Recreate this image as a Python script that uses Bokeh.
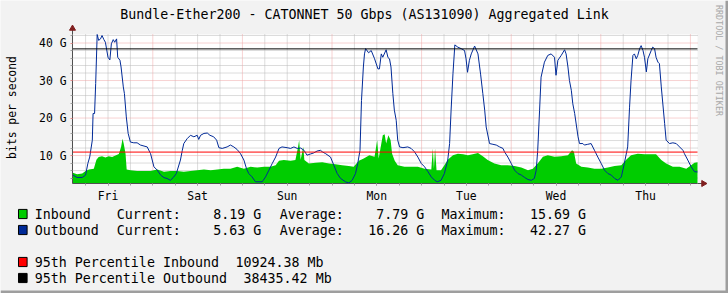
import math
from bokeh.plotting import figure
from bokeh.models import Range1d, FixedTicker, Label, BoxAnnotation
from bokeh.embed import file_html
from bokeh.resources import INLINE

# time axis: hours since Friday 00:00
out_t = [2.6, 3.7, 5.1, 6.0, 6.6, 7.1, 7.8, 8.0, 8.4, 8.7, 9.1, 9.5, 10.0, 10.4, 10.9, 11.3, 12.0, 12.5, 12.9, 13.4,
         13.8, 14.3, 14.6, 15.2, 15.5, 16.1, 16.4, 16.9, 17.4, 18.0, 18.9, 19.8, 20.7, 22.5, 23.4, 24.3, 25.2, 26.1,
         27.0, 27.8, 28.7, 29.5, 30.3, 31.4, 31.9, 32.3, 33.2, 34.1, 35.0, 35.9, 36.3, 36.8, 37.7, 38.6, 39.3, 40.3,
         41.1, 41.7, 42.6, 43.9, 44.8, 45.7, 46.6, 47.5, 48.4, 49.1, 49.7, 50.6, 51.5, 53.3, 54.2, 55.1, 56.0, 56.9,
         57.8, 58.6, 60.0, 60.9, 61.8, 62.7, 63.6, 64.5, 65.3, 66.2, 67.1, 68.0, 68.9, 69.4, 70.3, 71.6, 72.5, 73.4,
         74.3, 75.6, 76.5, 77.4, 78.3, 78.9, 79.5, 79.9, 80.4, 80.7, 81.0, 81.8, 82.5, 83.4, 84.3, 84.7, 85.2, 85.6,
         86.5, 87.0, 87.4, 87.8, 88.3, 88.7, 89.2, 89.6, 90.1, 91.0, 92.3, 93.2, 94.1, 95.0, 95.9, 96.8, 97.7, 98.6,
         99.5, 100.2, 101.2, 102.1, 103.0, 103.5, 103.9, 104.4, 104.9, 105.7, 106.6, 107.5, 107.9, 108.3, 108.8,
         109.3, 110.2, 111.1, 111.8, 112.4, 112.9, 113.3, 114.2, 115.1, 116.0, 116.9, 117.8, 118.2, 119.1, 120.0,
         120.9, 121.8, 122.7, 123.6, 124.5, 125.4, 126.2, 126.7, 127.1, 127.6, 128.0, 128.9, 129.8, 130.7, 131.6,
         132.0, 132.5, 133.4, 134.3, 134.7, 135.2, 135.6, 136.1, 136.5, 137.0, 137.9, 138.3, 139.2, 139.6, 140.5,
         141.4, 142.3, 143.2, 144.1, 145.0, 145.9, 146.8, 147.7, 148.6, 149.5, 150.3, 151.2, 151.7, 152.1, 152.6,
         153.0, 153.5, 153.9, 154.4, 154.8, 155.3, 155.7, 156.2, 156.6, 157.5, 157.9, 158.4, 158.8, 159.3, 159.7,
         160.2, 161.1, 161.5, 162.4, 163.3, 164.2, 165.1, 166.0, 166.4, 167.3, 168.2, 169.1, 169.9]
out_g = [4.8, 4.15, 4.15, 4.8, 7.9, 9.6, 14.1, 21.2, 21.2, 29.2, 42.27, 40.7, 41.1, 42.0, 40.9, 40.2, 36.2, 35.5, 39.8, 40.9,
         40.2, 41.1, 36.2, 35.4, 33.6, 28.3, 26.5, 20.3, 15.9, 13.6, 13.4, 13.4, 12.8, 12.3, 10.5, 7.0, 6.1, 4.8,
         4.1, 3.9, 3.4, 4.15, 5.2, 8.8, 11.4, 13.2, 14.5, 15.4, 15.0, 15.4, 14.3, 15.4, 15.9, 16.0, 15.4, 15.0,
         14.1, 12.1, 11.9, 12.3, 12.8, 12.3, 11.6, 10.5, 8.8, 6.5, 5.2, 4.3, 3.0, 3.0, 4.3, 6.1, 7.9, 9.6,
         11.9, 12.3, 12.1, 11.9, 12.3, 11.9, 12.0, 11.4, 10.1, 10.4, 10.7, 11.2, 11.4, 11.0, 10.5, 9.6, 7.4, 5.2,
         3.9, 3.0, 2.7, 3.4, 5.2, 7.9, 11.4, 24.7, 33.6, 37.1, 38.5, 37.4, 38.0, 35.8, 33.1, 33.1, 37.1, 36.2,
         38.2, 36.1, 35.8, 33.6, 26.5, 22.1, 19.4, 14.1, 12.3, 12.1, 12.3, 11.9, 11.0, 9.6, 7.9, 7.0, 5.7, 4.3,
         3.4, 3.0, 3.4, 5.2, 8.8, 13.2, 22.1, 31.8, 39.5, 38.9, 38.5, 38.0, 35.8, 32.2, 35.4,
         37.1, 39.2, 37.1, 31.7, 26.5, 22.1, 17.6, 13.2, 13.0, 12.8, 12.3, 11.9, 11.0, 9.6, 7.9,
         6.1, 5.2, 4.8, 4.15, 3.6, 3.4, 3.9, 6.1, 11.4, 22.1, 30.9, 34.9, 36.7, 37.1, 36.2,
         31.4, 35.4, 36.7, 38.2, 37.1, 33.6, 30.0, 27.4, 23.8, 21.2, 15.0, 13.2, 13.2, 12.8, 13.0,
         13.2, 11.4, 9.6, 7.9, 6.1, 5.2, 4.8, 3.9, 3.4, 4.3, 7.9, 12.3, 22.9, 30.0, 36.7,
         37.1, 35.8, 36.7, 38.5, 39.3, 38.0, 36.2, 32.3, 35.8, 38.0, 38.9, 38.5, 36.2, 34.9, 34.5,
         28.3, 18.5, 14.1, 13.2, 13.4, 13.2, 12.3, 11.4, 10.5, 8.8, 7.0, 5.7, 5.63]

in_t = [2.6, 3.7, 5.1, 6.0, 6.9, 8.2, 8.9, 9.5, 10.4, 11.3, 12.2, 13.1, 14.0, 14.9, 15.5, 15.9, 16.2, 16.7, 17.0, 18.0,
        19.8, 21.6, 23.4, 25.2, 27.0, 28.7, 30.5, 32.3, 34.1, 35.9, 37.7, 39.5, 41.3, 43.0, 44.8, 46.6, 48.4, 50.2,
        52.0, 53.8, 55.5, 56.9, 57.8, 59.1, 60.9, 62.2, 62.9, 63.2, 63.6, 64.3, 64.6, 65.8, 67.6, 69.4, 71.2, 72.9,
        74.7, 76.5, 77.8, 79.2, 80.5, 82.0, 83.4, 84.1, 84.5, 85.6, 86.1, 86.5, 87.1, 87.7, 88.1, 88.8, 89.6, 91.4,
        93.2, 95.0, 96.8, 98.6, 99.0, 99.3, 99.6, 100.0, 101.2, 102.1, 103.0, 104.4, 105.7, 107.1, 108.4, 109.7,
        111.1, 112.4, 113.7, 115.5, 117.3, 119.1, 120.9, 122.7, 124.5, 125.8, 127.1, 128.5, 129.8, 131.6, 133.4,
        135.2, 136.3, 136.8, 137.4, 138.8, 140.5, 142.3, 144.1, 145.9, 147.7, 149.5, 150.8, 152.1, 153.9, 155.7,
        157.5, 158.8, 160.2, 161.5, 163.3, 165.1, 166.9, 168.2, 169.1, 169.9]
in_g = [5.4, 5.0, 5.2, 5.9, 6.3, 6.5, 8.9, 9.6, 9.8, 9.5, 9.8, 9.6, 10.0, 10.4, 12.3, 14.5, 13.2, 10.5, 6.3, 6.1,
        5.9, 5.9, 5.9, 6.3, 5.7, 5.9, 5.9, 5.7, 5.9, 6.1, 6.3, 6.1, 6.3, 6.5, 6.5, 7.0, 6.5, 7.0,
        6.8, 7.0, 7.0, 7.4, 8.6, 8.8, 8.6, 8.8, 12.3, 14.1, 8.9, 12.3, 8.8, 7.9, 8.05, 8.2, 7.9, 7.7,
        7.4, 7.2, 7.0, 8.6, 9.2, 10.1, 9.65, 14.1, 9.2, 15.4, 15.69, 13.2, 15.4, 14.1, 10.5, 8.6, 7.4, 7.0,
        7.0, 7.0, 6.5, 6.3, 11.9, 6.5, 11.9, 6.1, 6.1, 7.4, 8.9, 10.1, 10.5, 10.35, 10.1, 10.35,
        10.7, 9.8, 8.8, 7.9, 7.4, 7.4, 7.2, 6.8, 6.1, 6.5, 7.9, 9.65, 10.1, 9.65, 9.8,
        10.1, 11.4, 11.0, 7.9, 7.0, 6.8, 6.5, 6.5, 6.8, 7.2, 7.4, 8.9, 10.1, 10.5, 10.35,
        10.35, 10.35, 8.8, 7.9, 7.0, 7.0, 6.5, 7.4, 8.05, 8.19]

day_names = ["Fri", "Sat", "Sun", "Mon", "Tue", "Wed", "Thu"]
day_noons = [12, 36, 60, 84, 108, 132, 156]
y_major = [10, 20, 30, 40]
y_labels = ["10 G", "20 G", "30 G", "40 G"]

pct95_in = 10.92438   # G
pct95_out = 38.43542  # G

series_names = ["Inbound", "Outbound"]
series_colors = ["#00CC00", "#002A97"]
current_vals = ["8.19 G", "5.63 G"]
average_vals = ["7.79 G", "16.26 G"]
maximum_vals = ["15.69 G", "42.27 G"]
pct_names = ["95th Percentile Inbound", "95th Percentile Outbound"]
pct_vals = ["10924.38 Mb", "38435.42 Mb"]
pct_colors = ["#FF0000", "#000000"]
title = "Bundle-Ether200 - CATONNET 50 Gbps (AS131090) Aggregated Link"

MONO = "DejaVu Sans Mono"
BG = "#F2F2F2"
W, H = 728, 293
CH = 8.03  # character advance of the legend font

# visible graph window (data) and its pixel placement on the canvas
XMIN, XMAX = 2.49, 169.9
YMIN, YMAX = 2.55, 42.27
GL, GT, GW, GH = 72, 34, 625, 149
PX_H = GW / (XMAX - XMIN)
PX_G = GH / (YMAX - YMIN)
xr = Range1d(XMIN - GL / PX_H, XMIN + (W - GL) / PX_H)
yr = Range1d(YMIN - (H - GT - GH) / PX_G, YMIN + (GT + GH) / PX_G)

p = figure(width=W, height=H, output_backend="svg", toolbar_location=None, title=None,
           x_range=xr, y_range=yr, min_border_left=0, min_border_right=0,
           min_border_top=0, min_border_bottom=0)
p.background_fill_color = BG
p.border_fill_color = BG
p.outline_line_color = None
p.xgrid.visible = False
p.ygrid.visible = False

# white canvas of the graph
p.add_layout(BoxAnnotation(left=XMIN, right=XMAX, bottom=YMIN, top=YMAX, fill_color="white", fill_alpha=1,
                           line_color=None, level="underlay"))

# grid lines (dotted)
midnights = [24 * i for i in range(1, 8)]
six_h = [6 * i for i in range(1, 29) if i % 4 != 0]
y_minor = [v for v in range(4, 43, 2) if v % 10 != 0]
MINOR_C, MAJOR_C = "#B8B8B8", "#EFA5A5"
p.segment(x0=six_h, x1=six_h, y0=[YMIN] * len(six_h), y1=[YMAX] * len(six_h),
          line_color=MINOR_C, line_width=1, line_dash="1 1")
p.segment(x0=[XMIN] * len(y_minor), x1=[XMAX] * len(y_minor), y0=y_minor, y1=y_minor,
          line_color=MINOR_C, line_width=1, line_dash="1 1")
p.segment(x0=midnights, x1=midnights, y0=[YMIN] * len(midnights), y1=[YMAX] * len(midnights),
          line_color=MAJOR_C, line_width=1, line_dash="1 1")
p.segment(x0=[XMIN] * len(y_major), x1=[XMAX] * len(y_major), y0=y_major, y1=y_major,
          line_color=MAJOR_C, line_width=1, line_dash="1 1")

# axes at fixed positions
AXIS_C = "#505050"
p.xaxis.fixed_location = YMIN
p.yaxis.fixed_location = XMIN
p.xaxis.bounds = (XMIN, XMAX)
p.yaxis.bounds = (YMIN, YMAX)
p.xaxis.ticker = FixedTicker(ticks=day_noons, minor_ticks=midnights + six_h)
p.xaxis.major_label_overrides = {t: d for t, d in zip(day_noons, day_names)}
p.yaxis.ticker = FixedTicker(ticks=y_major, minor_ticks=y_minor)
p.yaxis.major_label_overrides = {v: s for v, s in zip(y_major, y_labels)}
for ax in (p.xaxis[0], p.yaxis[0]):
    ax.axis_line_color = AXIS_C
    ax.major_label_text_font = MONO
    ax.major_label_text_font_size = "11.4px"
    ax.major_label_text_color = "black"
    ax.major_tick_line_color = "#A0A0A0"
    ax.minor_tick_line_color = "#A0A0A0"
    ax.major_tick_out = 2
    ax.major_tick_in = 0
    ax.minor_tick_out = 2
    ax.minor_tick_in = 0
p.xaxis.major_label_standoff = 3
p.yaxis.major_label_standoff = 4
p.yaxis.major_tick_line_color = "#E88A8A"

# data
p.varea(x=in_t, y1=YMIN, y2=in_g, fill_color="#00CC00")
p.line(out_t, out_g, line_color="#002A97", line_width=1)

# 95th percentile lines
p.segment(x0=[XMIN], x1=[XMAX], y0=[pct95_in], y1=[pct95_in], line_color="#FF0000", line_width=1)
p.segment(x0=[XMIN], x1=[XMAX], y0=[pct95_out], y1=[pct95_out], line_color="#000000", line_width=1)

# axis extensions with arrow heads
ARROW_C = "#801F1F"
y_tip = YMAX + 6 / PX_G
x_tip = XMAX + 6 / PX_H
p.segment(x0=[XMIN, XMAX], x1=[XMIN, x_tip], y0=[YMAX, YMIN], y1=[y_tip, YMIN], line_color=AXIS_C, line_width=1)
p.scatter(x=[XMIN], y=[y_tip], marker="triangle", size=6, fill_color=ARROW_C, line_color=ARROW_C)
p.scatter(x=[x_tip], y=[YMIN], marker="triangle", size=6, angle=-math.pi / 2,
          fill_color=ARROW_C, line_color=ARROW_C)


def scr(cx, cy):
    return cx, H - cy


def text_label(cx, cy, txt, size="13.3px", color="black", align="left", angle=0.0):
    x, y = scr(cx, cy)
    p.add_layout(Label(x=x, y=y, x_units="screen", y_units="screen", text=txt, text_font=MONO,
                       text_font_size=size, text_color=color, text_align=align,
                       text_baseline="middle", angle=angle))


text_label(364, 14, title, align="center")
text_label(11, 107, "bits per second", size="11.4px", align="center", angle=math.pi / 2)
text_label(718.5, 60, "RRDTOOL / TOBI OETIKER", size="8.4px", color="#A8A8A8", align="center",
           angle=-math.pi / 2)


def square(cx, cy, color):
    x, y = scr(cx, cy)
    p.add_layout(Label(x=x, y=y, x_units="screen", y_units="screen", text=" ", text_font=MONO,
                       text_font_size="1px", text_align="center", text_baseline="middle",
                       background_fill_color=color, border_line_color="black", padding=4))


TX = 34.3          # legend text start
COLS = [116.3, 279.3, 441.0]  # GPRINT column starts (18 characters each)
for name, color, cur, avg, mx, cy in zip(series_names, series_colors, current_vals, average_vals,
                                         maximum_vals, [213.5, 229.5]):
    square(22.3, cy, color)
    text_label(TX, cy, name)
    for col, word, val in zip(COLS, ["Current:", "Average:", "Maximum:"], [cur, avg, mx]):
        text_label(col, cy, word)
        text_label(col + 18 * CH, cy, val, align="right")
for name, val, color, cy, gap in zip(pct_names, pct_vals, pct_colors, [261.5, 277.5], [2, 2]):
    square(22.3, cy, color)
    text_label(TX, cy, name)
    text_label(TX + (len(name) + gap) * CH, cy, val)

# 3D frame shading of the image (right / bottom)
p.add_layout(BoxAnnotation(left=W - 3, right=W, bottom=0, top=H, left_units="screen", right_units="screen",
                           bottom_units="screen", top_units="screen", fill_color="#9E9E9E", fill_alpha=1,
                           line_color=None))
p.add_layout(BoxAnnotation(left=0, right=W, bottom=0, top=3, left_units="screen", right_units="screen",
                           bottom_units="screen", top_units="screen", fill_color="#9E9E9E", fill_alpha=1,
                           line_color=None))

open("out.html", "w").write(file_html(p, INLINE))
